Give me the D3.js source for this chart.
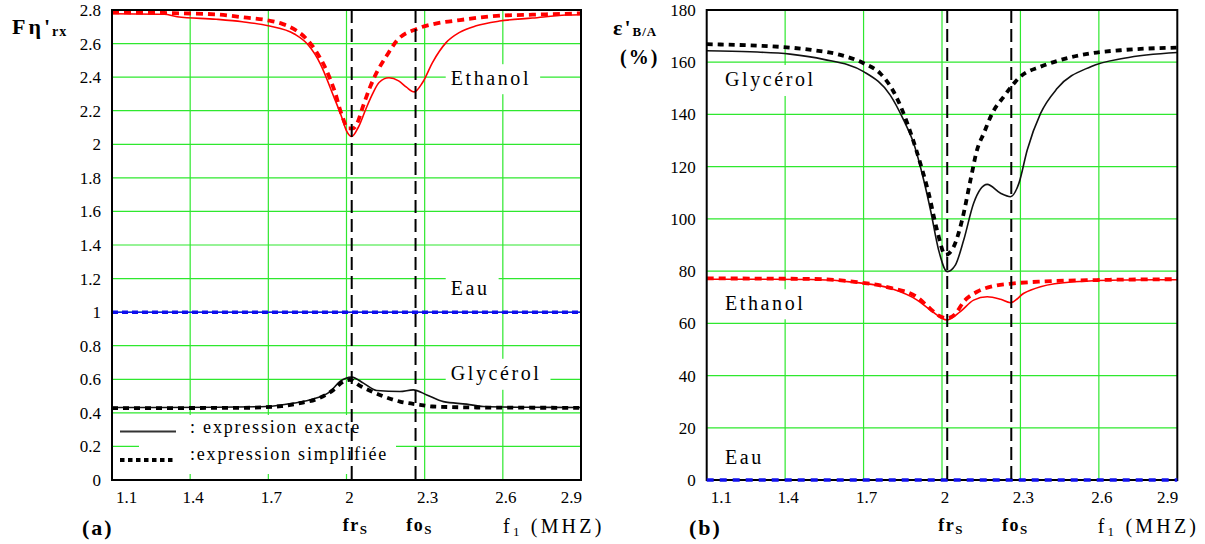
<!DOCTYPE html>
<html><head><meta charset="utf-8">
<script src="https://cdn.jsdelivr.net/npm/d3@7"></script>
<style>
html,body{margin:0;padding:0;background:#fff;}
svg{display:block;}
</style></head>
<body>
<svg id="chart" width="1205" height="544" font-family="Liberation Serif"></svg>
<script>
// ---------------- DATA ----------------
const xTickValues = [1.1, 1.4, 1.7, 2, 2.3, 2.6, 2.9];
const xGridValues = [1.4, 1.7, 2.0, 2.3, 2.6];
const leftYTicks = [0,0.2,0.4,0.6,0.8,1,1.2,1.4,1.6,1.8,2,2.2,2.4,2.6,2.8];
const rightYTicks = [0,20,40,60,80,100,120,140,160,180];
const frS = 2.02, foS = 2.265;

// (a) F eta'rx  -- [f1 (MHz), value]
const ethanolA_exact = [[1.1,2.778],[1.3,2.775],[1.35,2.76],[1.5,2.745],[1.6,2.73],[1.7,2.706],[1.8,2.657],[1.85,2.597],[1.9,2.478],[1.95,2.288],[1.98,2.169],[2.0,2.08],[2.02,2.046],[2.045,2.10],[2.074,2.209],[2.1,2.30],[2.125,2.368],[2.163,2.396],[2.2,2.378],[2.23,2.34],[2.26,2.312],[2.292,2.368],[2.33,2.487],[2.383,2.607],[2.434,2.667],[2.498,2.706],[2.587,2.734],[2.714,2.752],[2.843,2.77],[2.9,2.772]];
const ethanolA_simpl = [[1.1,2.786],[1.3,2.782],[1.5,2.774],[1.604,2.756],[1.706,2.736],[1.756,2.716],[1.809,2.676],[1.847,2.627],[1.886,2.547],[1.924,2.437],[1.956,2.309],[1.981,2.179],[2.007,2.095],[2.025,2.095],[2.039,2.119],[2.064,2.229],[2.09,2.339],[2.116,2.428],[2.154,2.527],[2.193,2.617],[2.269,2.687],[2.333,2.716],[2.435,2.74],[2.589,2.766],[2.714,2.772],[2.9,2.78]];
const eauA_exact = [[1.1,1],[2.9,1]];
const eauA_simpl = [[1.1,1],[2.9,1]];
const glycerolA_exact = [[1.1,0.432],[1.5,0.433],[1.694,0.438],[1.796,0.458],[1.872,0.482],[1.937,0.527],[1.975,0.587],[2.02,0.613],[2.065,0.577],[2.116,0.533],[2.205,0.527],[2.256,0.537],[2.308,0.507],[2.372,0.467],[2.461,0.452],[2.525,0.438],[2.7,0.433],[2.9,0.432]];
const glycerolA_simpl = [[1.1,0.428],[1.6,0.43],[1.75,0.44],[1.821,0.458],[1.886,0.482],[1.95,0.537],[1.988,0.587],[2.013,0.597],[2.052,0.561],[2.128,0.507],[2.205,0.467],[2.282,0.448],[2.33,0.438],[2.5,0.432],[2.9,0.43]];

// (b) epsilon'B/A (%)
const glycerolB_exact = [[1.1,164.4],[1.266,164.0],[1.419,163.1],[1.547,161.1],[1.70,156.4],[1.802,147.4],[1.853,137.9],[1.892,128.9],[1.930,114.9],[1.956,103.4],[1.987,88.1],[2.02,79.8],[2.051,82.3],[2.083,91.9],[2.121,106.0],[2.173,113.2],[2.224,109.8],[2.262,108.5],[2.294,113.6],[2.326,126.4],[2.377,140.4],[2.441,150.0],[2.569,158.3],[2.696,161.5],[2.9,163.7]];
const glycerolB_simpl = [[1.1,166.9],[1.419,165.6],[1.5,164.7],[1.611,162.8],[1.70,159.6],[1.764,155.7],[1.815,148.7],[1.853,140.4],[1.885,131.5],[1.917,121.3],[1.949,109.8],[1.981,95.7],[2.013,86.2],[2.045,89.4],[2.077,99.6],[2.109,114.9],[2.134,126.4],[2.160,132.8],[2.192,140.4],[2.236,146.8],[2.30,154.5],[2.377,158.3],[2.441,160.5],[2.569,163.4],[2.696,164.7],[2.9,165.6]];
const ethanolB_exact = [[1.1,76.9],[1.5,76.8],[1.675,75.6],[1.802,73.4],[1.905,68.9],[1.956,65.1],[2.02,61.3],[2.07,64.5],[2.121,68.9],[2.173,70.2],[2.224,69.2],[2.262,67.9],[2.313,71.5],[2.377,74.0],[2.505,75.9],[2.7,76.6],[2.9,76.7]];
const ethanolB_simpl = [[1.1,77.2],[1.5,77.0],[1.675,75.8],[1.802,73.6],[1.905,70.0],[1.956,65.5],[1.99,62.8],[2.02,62.0],[2.05,63.5],[2.083,68.3],[2.134,72.1],[2.198,74.3],[2.275,75.3],[2.377,76.0],[2.6,76.6],[2.9,76.9]];
const eauB_simpl = [[1.1,0],[2.9,0]];

const legendLabels = [": expression exacte", ":expression simplifiée"];

// ---------------- DRAWING ----------------
const FONT = "Liberation Serif";
const svg = d3.select("#chart");
const RED = "#ff0000", BLACK = "#000", BLUE = "#1010ee", GRID = "#2ee82e";

function panel(cfg) {
  const x = d3.scaleLinear().domain([1.1, 2.9]).range([cfg.x0, cfg.x1]);
  const y = d3.scaleLinear().domain(cfg.yDomain).range([cfg.y1, cfg.y0]);
  const g = svg.append("g");
  const gGrid = g.append("g"), gBox = g.append("g"), gLines = g.append("g"), gText = g.append("g").attr("font-family", FONT);

  gGrid.selectAll("line.v").data(xGridValues).join("line")
    .attr("x1", d => x(d)).attr("x2", d => x(d)).attr("y1", cfg.y0).attr("y2", cfg.y1)
    .attr("stroke", GRID).attr("stroke-width", 1.2);
  gGrid.selectAll("line.h").data(cfg.yTicks.slice(1, -1)).join("line")
    .attr("y1", d => y(d)).attr("y2", d => y(d)).attr("x1", cfg.x0).attr("x2", cfg.x1)
    .attr("stroke", GRID).attr("stroke-width", 1.2);

  gText.selectAll("text.yt").data(cfg.yTicks).join("text")
    .attr("x", cfg.x0 - 11).attr("y", d => y(d) + 6)
    .attr("text-anchor", "end").attr("font-size", 17).text(cfg.yFmt);
  gText.selectAll("text.xt").data(xTickValues).join("text")
    .attr("x", (d, i) => i === 0 ? x(d) + 4 : (i === xTickValues.length - 1 ? x(d) + 1 : x(d) + 3))
    .attr("y", cfg.y1 + 23)
    .attr("text-anchor", (d, i) => i === 0 ? "start" : (i === xTickValues.length - 1 ? "end" : "middle"))
    .attr("font-size", 17).text(d => String(d));

  const line = d3.line().x(d => x(d[0])).y(d => y(d[1])).curve(d3.curveMonotoneX);
  const drawS = (sel, s) => sel.append("path").datum(s.data).attr("d", line)
      .attr("fill", "none").attr("stroke", s.color).attr("stroke-width", s.w)
      .attr("stroke-dasharray", s.dash || null);
  cfg.series.forEach(s => drawS(gLines, s));

  g.append("rect").attr("x", cfg.x0).attr("y", cfg.y0)
    .attr("width", cfg.x1 - cfg.x0).attr("height", cfg.y1 - cfg.y0)
    .attr("fill", "none").attr("stroke", "#000").attr("stroke-width", 2);
  if (cfg.after) cfg.after.forEach(s => drawS(g, s));

  g.selectAll("line.f").data([frS, foS]).join("line")
    .attr("x1", d => x(d)).attr("x2", d => x(d)).attr("y1", cfg.y0).attr("y2", cfg.y1 + 5)
    .attr("stroke", "#000").attr("stroke-width", 2).attr("stroke-dasharray", "13,6");

  cfg.labels.forEach(l => {
    const t = gText.append("text").attr("x", x(l.f)).attr("y", y(l.v))
      .attr("font-size", 20).attr("letter-spacing", 2.6).text(l.text);
    const b = t.node().getBBox();
    gBox.append("rect").attr("x", b.x - 5).attr("y", b.y - 3)
      .attr("width", b.width + 14).attr("height", b.height + 8).attr("fill", "#fff");
  });

  [[frS, "fr"], [foS, "fo"]].forEach(([v, s]) => {
    const t = gText.append("text").attr("x", x(v) + 4).attr("y", cfg.y1 + 51)
      .attr("text-anchor", "middle").attr("font-weight", "bold").attr("font-size", 18)
      .attr("letter-spacing", 1.5);
    t.append("tspan").text(s);
    t.append("tspan").attr("font-size", 13).attr("dy", 3).text("S");
  });
  const fx = gText.append("text").attr("x", cfg.x0 + 391).attr("y", cfg.y1 + 53)
    .attr("font-size", 20).attr("letter-spacing", 3.2);
  fx.append("tspan").text("f");
  fx.append("tspan").attr("font-size", 13).attr("dy", 3).text("1");
  fx.append("tspan").attr("dy", -3).text(" (MHZ)");
  gText.append("text").attr("x", cfg.letterX).attr("y", cfg.y1 + 55)
    .attr("font-size", 22).attr("font-weight", "bold").attr("letter-spacing", 2).text(cfg.letter);

  return {x, y, g, gBox, gText};
}

const A = panel({
  x0: 112, x1: 581, y0: 10, y1: 480, yDomain: [0, 2.8], yTicks: leftYTicks,
  yFmt: d => String(+d.toFixed(1)), letter: "(a)", letterX: 82,
  series: [
    {data: eauA_exact, color: BLUE, w: 1.5},
    {data: eauA_simpl, color: BLUE, w: 3.5, dash: "6,4"},
    {data: glycerolA_exact, color: "#111", w: 1.6},
    {data: glycerolA_simpl, color: BLACK, w: 3.8, dash: "6,5"},
    {data: ethanolA_exact, color: RED, w: 1.6},
    {data: ethanolA_simpl, color: RED, w: 3.8, dash: "7,5"}
  ],
  labels: [
    {text: "Ethanol", f: 2.4, v: 2.352},
    {text: "Eau", f: 2.4, v: 1.1},
    {text: "Glycérol", f: 2.4, v: 0.597}
  ]
});
{
  const t = svg.append("text").attr("font-family", FONT).attr("x", 12).attr("y", 34).attr("font-weight", "bold").attr("font-size", 22);
  t.append("tspan").text("F");
  t.append("tspan").attr("dx", 3).text("η");
  t.append("tspan").attr("dx", 3).text("'");
  t.append("tspan").attr("dx", 2).attr("font-size", 14).attr("dy", 2).attr("letter-spacing", 1).text("rx");
}
{
  const lg = A.gText;
  A.gBox.append("rect").attr("x", 139).attr("y", 415).attr("width", 257).attr("height", 59).attr("fill", "#fff");
  A.g.append("line").attr("x1", 120).attr("x2", 176).attr("y1", 431.5).attr("y2", 431.5)
    .attr("stroke", "#333").attr("stroke-width", 1.8);
  A.g.append("line").attr("x1", 120).attr("x2", 176).attr("y1", 460).attr("y2", 460)
    .attr("stroke", "#000").attr("stroke-width", 4).attr("stroke-dasharray", "4.5,3.5");
  lg.selectAll("text.lg").data(legendLabels).join("text")
    .attr("x", 190).attr("y", (d, i) => 433 + i * 27)
    .attr("font-size", 18).attr("letter-spacing", 1.8).text(d => d);
}

const B = panel({
  x0: 706.7, x1: 1177.3, y0: 10, y1: 480, yDomain: [0, 180], yTicks: rightYTicks,
  yFmt: d => String(d), letter: "(b)", letterX: 689,
  series: [
    {data: glycerolB_exact, color: "#111", w: 1.6},
    {data: glycerolB_simpl, color: BLACK, w: 3.8, dash: "6,5"},
    {data: ethanolB_exact, color: RED, w: 1.6},
    {data: ethanolB_simpl, color: RED, w: 3.8, dash: "7,5"}
  ],
  after: [
    {data: eauB_simpl, color: BLUE, w: 3.5, dash: "7,6"}
  ],
  labels: [
    {text: "Glycérol", f: 1.17, v: 150.9},
    {text: "Ethanol", f: 1.17, v: 65},
    {text: "Eau", f: 1.17, v: 6.2}
  ]
});
{
  const t = svg.append("text").attr("font-family", FONT).attr("x", 613).attr("y", 35).attr("font-weight", "bold").attr("font-size", 22);
  t.append("tspan").text("ε");
  t.append("tspan").attr("dx", 2).text("'");
  t.append("tspan").attr("dx", 2).attr("font-size", 13).attr("dy", 1).attr("letter-spacing", 1).text("B/A");
  svg.append("text").attr("font-family", FONT).attr("x", 620).attr("y", 64).attr("font-weight", "bold").attr("font-size", 20)
    .attr("letter-spacing", 2).text("(%)");
}
</script>
</body></html>
